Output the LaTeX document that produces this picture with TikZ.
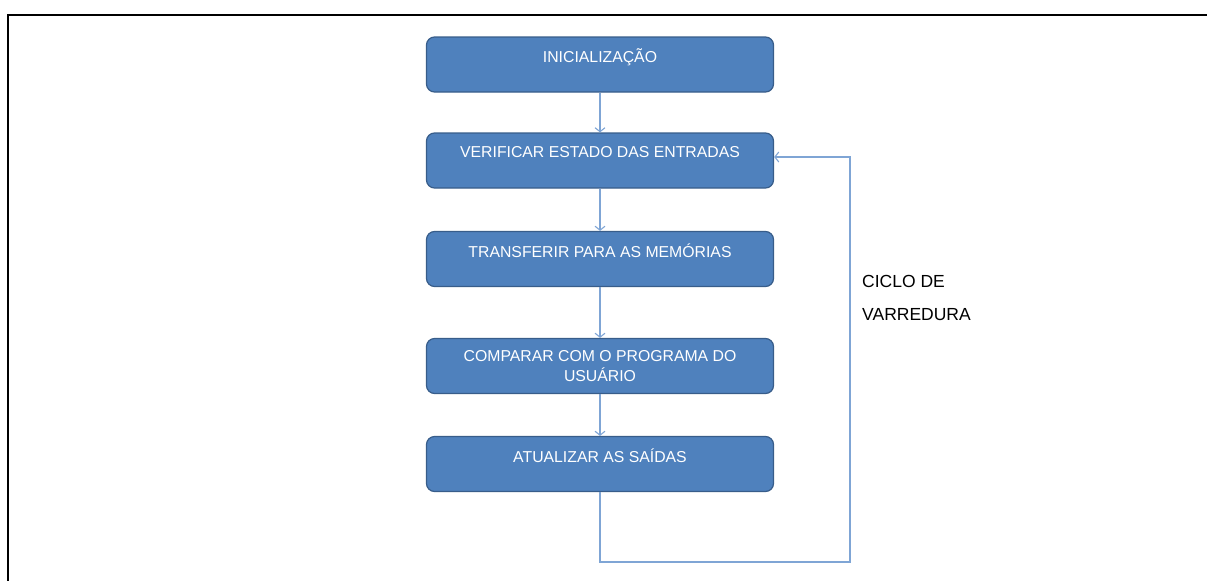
\documentclass[tikz,border=0pt]{standalone}
\usepackage{fontspec}
\setmainfont{Liberation Sans}
\usepackage{tikz}
\usetikzlibrary{arrows.meta,positioning,calc}

\definecolor{caixaazul}{HTML}{4F81BD}
\definecolor{bordaazul}{HTML}{385D8A}
\definecolor{setaazul}{HTML}{7FA5D5}

\begin{document}
\begin{tikzpicture}[x=1pt,y=-1pt,
    etapa/.style={rectangle, rounded corners=8pt, draw=bordaazul, line width=1.2pt,
        fill=caixaazul, text=white, minimum width=347pt, minimum height=55pt,
        align=center, font=\fontsize{15.8}{20}\selectfont},
    seta/.style={draw=setaazul, line width=1.1pt, -{Straight Barb[length=4pt,width=10pt]}},
    moldura/.style={line width=2.5pt}]
    \useasboundingbox (0,0) rectangle (1207,581);

    % Definição dos nós
    \node[etapa] (b1) at (600,64.5) {INICIALIZAÇÃO\\[-3pt] \mbox{}};
    \node[etapa] (b2) at (600,160.5) {VERIFICAR ESTADO DAS ENTRADAS\\[-3pt] \mbox{}};
    \node[etapa] (b3) at (600,259) {TRANSFERIR PARA AS MEMÓRIAS\\[-3pt] \mbox{}};
    \node[etapa] (b4) at (600,366) {COMPARAR COM O PROGRAMA DO\\ USUÁRIO};
    \node[etapa] (b5) at (600,464) {ATUALIZAR AS SAÍDAS\\[-3pt] \mbox{}};
    \node[anchor=north west, align=left, inner sep=0pt,
        font=\fontsize{17.5}{33}\selectfont] (ciclo) at (862,275) {CICLO DE\\ VARREDURA};

    % Definição das setas
    \draw[seta] (b1) -- (b2);
    \draw[seta] (b2) -- (b3);
    \draw[seta] (b3) -- (b4);
    \draw[seta] (b4) -- (b5);

    % Ciclo de volta
    \coordinate (volta1) at (600,562);
    \coordinate (volta2) at (850,562);
    \draw[seta] (b5) -- (volta1) -- (volta2) |- ($(b2.east)+(0,-3.5)$);

    % Moldura
    \coordinate (canto) at (8,15);
    \draw[moldura] (1207,15) -- (canto) -- (8,581);
\end{tikzpicture}
\end{document}
